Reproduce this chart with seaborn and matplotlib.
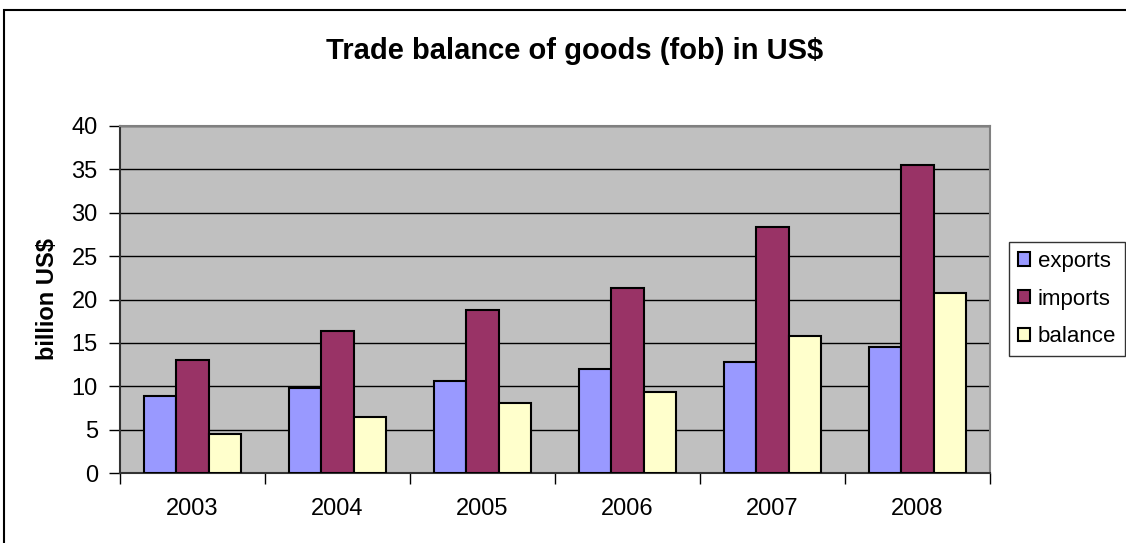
import matplotlib
matplotlib.use("Agg")
import matplotlib.pyplot as plt
import seaborn as sns
import pandas as pd
from matplotlib.patches import Rectangle
from matplotlib.ticker import FixedLocator

years = ["2003", "2004", "2005", "2006", "2007", "2008"]
exports = [8.9, 9.8, 10.6, 12.0, 12.8, 14.5]
imports = [13.05, 16.4, 18.8, 21.3, 28.4, 35.5]
balance = [4.45, 6.4, 8.05, 9.35, 15.8, 20.7]
series = ["exports", "imports", "balance"]
colors = ["#9999FF", "#993366", "#FFFFCC"]

df = pd.DataFrame({
    "year": years * 3,
    "value": exports + imports + balance,
    "series": [s for s in series for _ in years],
})

sns.set_theme(style="white")
plt.rcParams["font.family"] = ["Liberation Sans", "DejaVu Sans"]
plt.rcParams["text.color"] = "black"
plt.rcParams["axes.labelcolor"] = "black"
plt.rcParams["xtick.color"] = "black"
plt.rcParams["ytick.color"] = "black"

fig = plt.figure(figsize=(11.26, 5.43), dpi=100)
ax = fig.add_axes([120 / 1126, 1 - 473 / 543, 870 / 1126, 347 / 543])
ax.set_facecolor("#C0C0C0")

sns.barplot(data=df, x="year", y="value", hue="series", hue_order=series,
            palette=colors, width=0.67, edgecolor="black", linewidth=1.5,
            errorbar=None, ax=ax, zorder=3, saturation=1)

ax.set_ylim(0, 40)
ax.set_xlim(-0.5, 5.5)
ax.set_yticks(range(0, 41, 5))
ax.yaxis.grid(True, color="black", linewidth=1.0, zorder=0)
ax.set_axisbelow(True)
ax.tick_params(axis="y", labelsize=17, length=8, width=1, color="black",
               pad=8, left=True, labelcolor="black")
ax.tick_params(axis="x", which="major", labelsize=17, length=0, pad=18,
               labelcolor="black")
ax.xaxis.set_minor_locator(FixedLocator([i - 0.5 for i in range(7)]))
ax.tick_params(axis="x", which="minor", length=8, width=1, color="black",
               bottom=True)
ax.set_xlabel("")
ax.set_ylabel("billion US$", fontsize=17, fontweight="bold", labelpad=9,
              color="black")

for side in ["top", "right"]:
    ax.spines[side].set_color("#808080")
    ax.spines[side].set_linewidth(1.5)
for side in ["left", "bottom"]:
    ax.spines[side].set_color("#333333")
    ax.spines[side].set_linewidth(1.5)

handles, labels = ax.get_legend_handles_labels()
if ax.legend_:
    ax.legend_.remove()
leg = fig.legend(handles, labels, loc="upper left",
                 bbox_to_anchor=(1009 / 1126, 1 - 242 / 543),
                 frameon=True, fancybox=False, edgecolor="black",
                 fontsize=16, handlelength=0.55, handleheight=0.55,
                 handletextpad=0.35, borderpad=0.4, labelspacing=0.75,
                 borderaxespad=0)
leg.get_frame().set_linewidth(1.0)
for t in leg.get_texts():
    t.set_color("black")

fig.text(575 / 1126, 1 - 51 / 543, "Trade balance of goods (fob) in US$",
         ha="center", va="center", fontsize=21, fontweight="bold",
         color="black")

fig.patches.append(Rectangle((4 / 1126, -0.05), 1.2, 1 - 10 / 543 + 0.05,
                             transform=fig.transFigure, fill=False,
                             edgecolor="black", linewidth=1.5))

fig.savefig("out.png", dpi=100)
